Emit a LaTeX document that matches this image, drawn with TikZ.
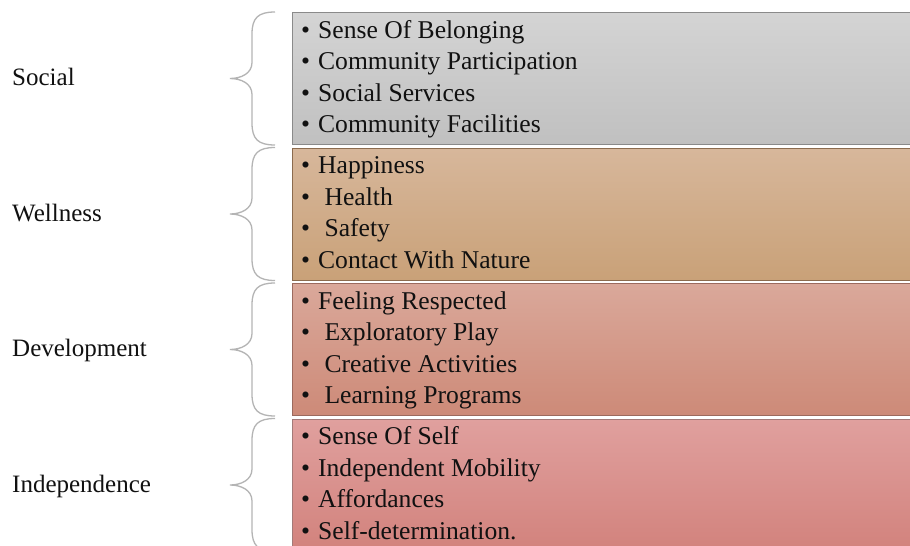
\documentclass[tikz,border=0pt]{standalone}
\usepackage{fontspec}
\setmainfont{Liberation Serif}

\definecolor{socTop}{HTML}{D4D4D4}\definecolor{socBot}{HTML}{C0C0C0}\definecolor{socLine}{HTML}{8A8A8A}
\definecolor{welTop}{HTML}{D7B79B}\definecolor{welBot}{HTML}{C9A178}\definecolor{welLine}{HTML}{8B6B4E}
\definecolor{devTop}{HTML}{DAA89A}\definecolor{devBot}{HTML}{CD8A78}\definecolor{devLine}{HTML}{9B6A5E}
\definecolor{indTop}{HTML}{E0A09E}\definecolor{indBot}{HTML}{D07E78}\definecolor{indLine}{HTML}{A37A78}
\definecolor{braceGray}{HTML}{B4B4B4}
\definecolor{inkText}{HTML}{111111}

% curly brace in front of a box: top y, bottom y, tip y
\newcommand{\sidebrace}[3]{%
  \draw[brc] (275,#1) .. controls (258,#1) and (252,{#1+6}) .. (252,{#1+22})
    -- (252,{#3-16}) .. controls (252,{#3-5}) and (241,#3) .. (230,#3)
    .. controls (241,#3) and (252,{#3+5}) .. (252,{#3+16})
    -- (252,{#2-22}) .. controls (252,{#2-6}) and (258,#2) .. (275,#2);}
\newcommand{\bul}{\textbullet\hspace{8pt}}

\begin{document}
\begin{tikzpicture}[x=1pt, y=-1pt,
        panel/.style={rectangle, draw, line width=1.3pt, anchor=north west, inner sep=0pt,
            minimum width=640pt, minimum height=132pt},
        itm/.style={anchor=base west, inner sep=0pt, text=inkText, font=\fontsize{25.6}{30}\selectfont},
        lbl/.style={anchor=base west, inner sep=0pt, text=inkText, font=\fontsize{25}{30}\selectfont},
        brc/.style={draw=braceGray, line width=1.3pt}]
    \clip (0,0) rectangle (910,546);
    \fill[white] (0,0) rectangle (910,546);

    % category boxes
    \node[panel, draw=socLine, top color=socTop, bottom color=socBot] (socbox) at (292,12) {};
    \node[panel, draw=welLine, top color=welTop, bottom color=welBot] (welbox) at (292,147.5) {};
    \node[panel, draw=devLine, top color=devTop, bottom color=devBot] (devbox) at (292,283) {};
    \node[panel, draw=indLine, top color=indTop, bottom color=indBot, minimum height=150pt] (indbox) at (292,418.5) {};

    % bullet lists
    \foreach \t [count=\i] in {Sense Of Belonging, Community Participation, Social Services, Community Facilities}
        \node[itm] (soc\i) at ([xshift=9pt, yshift={-26pt-(\i-1)*31.5pt}]socbox.north west) {\bul\t};
    \foreach \t [count=\i] in {Happiness, \ Health, \ Safety, Contact With Nature}
        \node[itm] (wel\i) at ([xshift=9pt, yshift={-26pt-(\i-1)*31.5pt}]welbox.north west) {\bul\t};
    \foreach \t [count=\i] in {Feeling Respected, \ Exploratory Play, \ Creative Activities, \ Learning Programs}
        \node[itm] (dev\i) at ([xshift=9pt, yshift={-26pt-(\i-1)*31.5pt}]devbox.north west) {\bul\t};
    \foreach \t [count=\i] in {Sense Of Self, Independent Mobility, Affordances, Self-determination.}
        \node[itm] (ind\i) at ([xshift=9pt, yshift={-26pt-(\i-1)*31.5pt}]indbox.north west) {\bul\t};

    % braces and category names
    \sidebrace{12}{145}{78.5}
    \sidebrace{147.5}{280.5}{214}
    \sidebrace{283}{416}{349.5}
    \sidebrace{418.5}{551.5}{485}
    \node[lbl] (social) at (12,85.5) {Social};
    \node[lbl] (wellness) at (12,221) {Wellness};
    \node[lbl] (development) at (12,356.5) {Development};
    \node[lbl] (independence) at (12,492) {Independence};
\end{tikzpicture}
\end{document}
